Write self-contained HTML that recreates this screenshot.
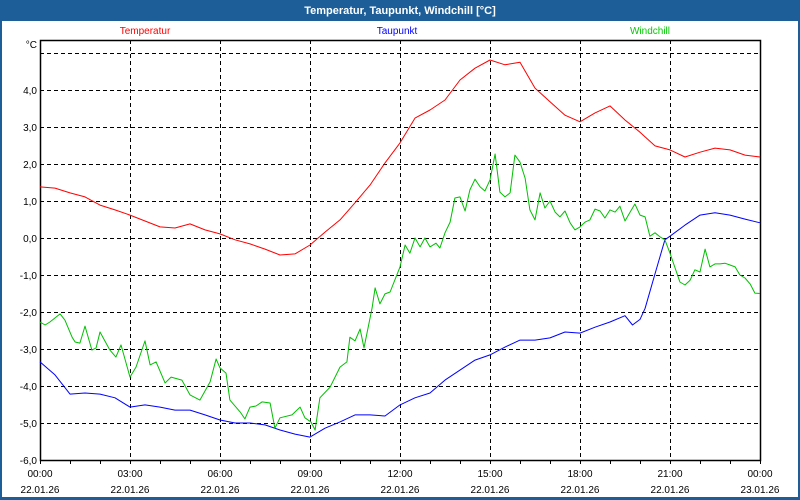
<!DOCTYPE html>
<html><head><meta charset="utf-8"><style>
html,body{margin:0;padding:0;background:#fff}
#wrap{position:relative;width:800px;height:500px;overflow:hidden;font-family:"Liberation Sans",sans-serif}
</style></head><body>
<div id="wrap">
<svg id="chart" width="800" height="500" xmlns="http://www.w3.org/2000/svg"></svg>
</div>
<script>
const timesT = [0,0.5,1,1.5,2,2.5,3,3.5,4,4.5,5,5.5,6,6.5,7,7.5,8,8.5,9,9.5,10,10.5,11,11.5,12,12.5,13,13.5,14,14.5,15,15.5,16,16.5,17,17.5,18,18.5,19,19.5,20,20.5,21,21.5,22,22.5,23,23.5,24];
const temperatur = [1.38,1.35,1.22,1.11,0.89,0.76,0.62,0.46,0.30,0.27,0.38,0.22,0.11,-0.05,-0.16,-0.30,-0.46,-0.43,-0.19,0.16,0.49,0.95,1.43,2.03,2.57,3.24,3.46,3.73,4.27,4.59,4.81,4.68,4.75,4.05,3.68,3.32,3.14,3.38,3.57,3.19,2.86,2.49,2.38,2.19,2.32,2.43,2.38,2.24,2.19];
const timesD = [0,0.5,1,1.5,2,2.5,3,3.5,4,4.5,5,5.5,6,6.5,7,7.5,8,8.5,9,9.5,10,10.5,11,11.5,12,12.5,13,13.5,14,14.5,15,15.5,16,16.5,17,17.5,18,18.5,19,19.5,19.75,20,20.17,20.5,20.83,21,21.5,22,22.5,23,23.5,24];
const taupunkt = [-3.35,-3.70,-4.22,-4.19,-4.22,-4.32,-4.57,-4.51,-4.57,-4.65,-4.65,-4.78,-4.92,-5.00,-5.00,-5.05,-5.19,-5.30,-5.38,-5.14,-4.97,-4.78,-4.78,-4.81,-4.51,-4.32,-4.19,-3.84,-3.57,-3.30,-3.16,-2.95,-2.76,-2.76,-2.70,-2.54,-2.57,-2.41,-2.27,-2.10,-2.35,-2.2,-1.9,-0.97,-0.05,0.05,0.35,0.62,0.68,0.62,0.51,0.41];
const timesW = [0,0.17,0.33,0.67,0.83,1.07,1.17,1.33,1.5,1.73,1.87,2,2.33,2.53,2.7,3,3.2,3.5,3.67,3.87,4.17,4.37,4.73,5,5.33,5.67,5.87,6,6.2,6.33,6.67,6.83,7,7.2,7.4,7.67,7.83,8,8.4,8.67,8.83,9.03,9.17,9.33,9.67,10,10.23,10.33,10.5,10.67,10.8,11.07,11.17,11.33,11.5,11.67,12,12.17,12.33,12.5,12.67,12.83,13,13.2,13.33,13.5,13.67,13.83,14,14.17,14.33,14.5,14.67,14.83,15,15.17,15.33,15.5,15.67,15.83,16,16.17,16.33,16.5,16.67,16.83,17,17.17,17.33,17.5,17.67,17.83,18,18.17,18.33,18.5,18.67,18.83,19,19.17,19.33,19.5,19.67,19.83,20,20.17,20.33,20.5,20.67,20.83,21,21.17,21.33,21.5,21.67,21.83,22,22.17,22.33,22.5,22.67,22.83,23,23.17,23.33,23.5,23.67,23.83,24];
const windchill = [-2.27,-2.35,-2.27,-2.05,-2.22,-2.68,-2.81,-2.84,-2.38,-3.03,-2.97,-2.54,-3.03,-3.22,-2.89,-3.76,-3.49,-2.78,-3.43,-3.35,-3.92,-3.76,-3.84,-4.24,-4.38,-3.89,-3.27,-3.51,-3.65,-4.38,-4.70,-4.89,-4.57,-4.54,-4.43,-4.46,-5.14,-4.86,-4.78,-4.57,-4.86,-4.97,-5.19,-4.32,-4.03,-3.49,-3.35,-2.68,-2.78,-2.46,-2.97,-1.89,-1.35,-1.78,-1.51,-1.46,-0.78,-0.19,-0.41,0,-0.24,0,-0.24,-0.14,-0.27,0.14,0.43,1.08,1.11,0.73,1.30,1.59,1.38,1.27,1.57,2.27,1.24,1.11,1.22,2.24,2.05,1.62,0.76,0.49,1.22,0.81,1.00,0.70,0.57,0.73,0.41,0.22,0.30,0.43,0.49,0.78,0.73,0.54,0.76,0.70,0.86,0.46,0.70,0.92,0.62,0.57,0.05,0.14,0.03,-0.05,-0.41,-0.81,-1.19,-1.27,-1.14,-0.86,-0.92,-0.30,-0.78,-0.70,-0.70,-0.68,-0.73,-0.78,-1.00,-1.08,-1.24,-1.49,-1.5];
const yTicks = [4,3,2,1,0,-1,-2,-3,-4,-5,-6];
const yTickLabels = ["4,0","3,0","2,0","1,0","0,0","-1,0","-2,0","-3,0","-4,0","-5,0","-6,0"];
const xTickHours = [0,3,6,9,12,15,18,21,24];
const xTickTimes = ["00:00","03:00","06:00","09:00","12:00","15:00","18:00","21:00","00:00"];
const xTickDates = ["22.01.26","22.01.26","22.01.26","22.01.26","22.01.26","22.01.26","22.01.26","22.01.26","23.01.26"];

const NS="http://www.w3.org/2000/svg";
const svg=document.getElementById('chart');
const X0=40,X1=760,YTOP=40,YB=460;
function xs(h){return X0+h*(X1-X0)/24;}
function ys(v){return YB-(v+6)*37;}
function el(tag,attrs,parent){const e=document.createElementNS(NS,tag);for(const k in attrs)e.setAttribute(k,attrs[k]);(parent||svg).appendChild(e);return e;}

let r=el('rect',{x:0,y:0,width:800,height:500,fill:'#1d5e98'});


r=el('rect',{x:2,y:21,width:796,height:476,fill:'#fff'});


let t=el('text',{x:400,y:14,'text-anchor':'middle',fill:'#fff','font-size':'11','font-weight':'bold','font-family':'Liberation Sans, sans-serif'});
t.textContent='Temperatur, Taupunkt, Windchill [°C]';



const legendNames=['Temperatur','Taupunkt','Windchill'];
const legendColors=['#ff0000','#0000ff','#00cc00'];
const legendX=[145,397,650];
for(let i=0;i<3;i++){
  const l=el('text',{x:legendX[i],y:34,'text-anchor':'middle',fill:legendColors[i],'font-size':'10','font-family':'Liberation Sans, sans-serif'});
  l.textContent=legendNames[i];
  
  
}
t=el('text',{x:37,y:48,'text-anchor':'end',fill:'#000','font-size':'10','font-family':'Liberation Sans, sans-serif'});
t.textContent='°C';



const g=el('g',{stroke:'#000','stroke-width':1,'stroke-dasharray':'4,3'});


const gridVals=[5].concat(yTicks);
gridVals.forEach(v=>{el('line',{x1:X0,x2:X1,y1:ys(v)+0.5,y2:ys(v)+0.5},g);});
xTickHours.forEach(h=>{if(h>0&&h<24)el('line',{x1:xs(h)+0.5,x2:xs(h)+0.5,y1:YTOP,y2:YB},g);});

r=el('rect',{x:X0+0.5,y:YTOP+0.5,width:X1-X0,height:YB-YTOP,fill:'none',stroke:'#000','stroke-width':1.5});


for(let h=0;h<=24;h++){
  const tk=el('line',{x1:xs(h)+0.5,x2:xs(h)+0.5,y1:YB,y2:YB+4,stroke:'#000'});
  
  
}
yTicks.forEach((v,i)=>{
  const l=el('text',{x:37,y:ys(v)+4,'text-anchor':'end',fill:'#000','font-size':'10','font-family':'Liberation Sans, sans-serif'});
  l.textContent=yTickLabels[i];
  
  
});
xTickHours.forEach((h,i)=>{
  const a=el('text',{x:xs(h),y:477,'text-anchor':'middle',fill:'#000','font-size':'10','font-family':'Liberation Sans, sans-serif'});
  a.textContent=xTickTimes[i];
  
  
  const b=el('text',{x:xs(h),y:493,'text-anchor':'middle',fill:'#000','font-size':'10','font-family':'Liberation Sans, sans-serif'});
  b.textContent=xTickDates[i];
  
  
});

function series(times,vals,color,name){
  const pts=times.map((h,i)=>xs(h).toFixed(1)+','+ys(vals[i]).toFixed(1)).join(' ');
  const p=el('polyline',{points:pts,fill:'none',stroke:color,'stroke-width':1,'stroke-linejoin':'round'});
  
  
}
series(timesT,temperatur,'#ff0000','temperatur-line');
series(timesD,taupunkt,'#0000ff','taupunkt-line');
series(timesW,windchill,'#00c000','windchill-line');
</script>
</body></html>
